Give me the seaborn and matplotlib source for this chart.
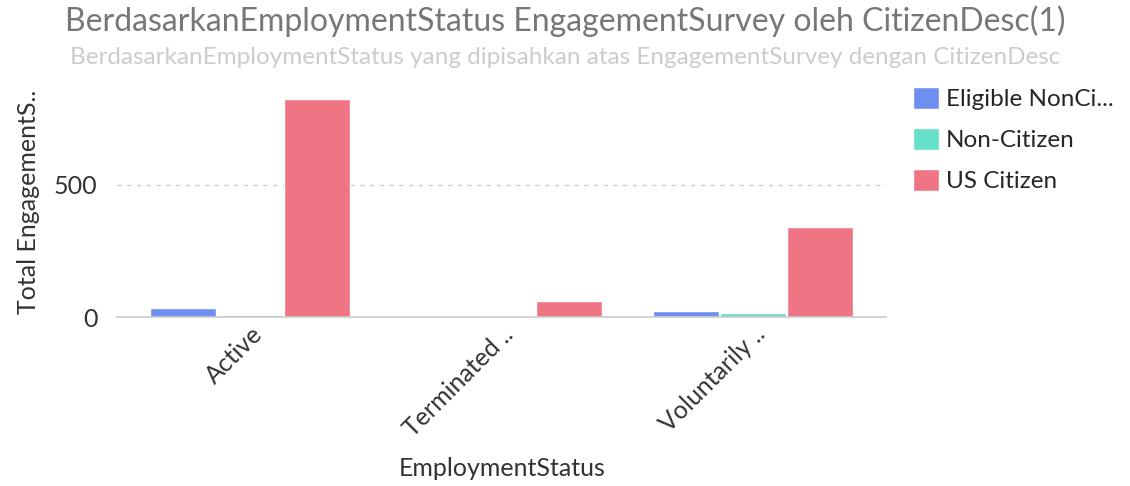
import matplotlib
matplotlib.use("Agg")
import matplotlib.pyplot as plt
import seaborn as sns
import pandas as pd

# data
status = ["Active", "Terminated ..", "Voluntarily .."]
citizen = ["Eligible NonCi...", "Non-Citizen", "US Citizen"]
eligible_noncitizen = [33, 0, 24]
non_citizen = [8, 0, 16]
us_citizen = [825, 62, 340]

colors = ["#6e8ef0", "#66e0c8", "#ef7585"]

df = pd.DataFrame({
    "EmploymentStatus": status * 3,
    "CitizenDesc": [c for c in citizen for _ in status],
    "Total": eligible_noncitizen + non_citizen + us_citizen,
})

sns.set_theme(style="white")
plt.rcParams["font.family"] = ["Lato", "DejaVu Sans"]

fig = plt.figure(figsize=(11.3, 4.86), dpi=100)
ax = fig.add_axes([0.1035, 0.3477, 0.681, 0.474])

sns.barplot(data=df, x="EmploymentStatus", y="Total", hue="CitizenDesc",
            palette=colors, hue_order=citizen, order=status,
            width=0.8, gap=0.02, saturation=1, ax=ax, legend=True)

ax.set_xlim(-0.53, 2.53)
ax.set_ylim(0, 870)
ax.set_yticks([0, 500])
ax.set_yticklabels(["0", "500"], fontsize=18, color="#333333")
ax.yaxis.grid(True, linestyle=(0, (3, 4)), color="#cccccc", linewidth=1)
ax.set_axisbelow(True)
for s in ["top", "right", "left"]:
    ax.spines[s].set_visible(False)
ax.spines["bottom"].set_color("#cccccc")
ax.spines["bottom"].set_linewidth(1.2)
ax.tick_params(axis="y", length=0, pad=14)
ax.tick_params(axis="x", length=0, pad=4)

ax.set_xticks(range(len(status)))
ax.set_xticklabels(status, rotation=45, ha="right", rotation_mode="anchor",
                   fontsize=18, color="#333333")
ax.set_xlabel("EmploymentStatus", fontsize=18, color="#333333", labelpad=12)
ax.set_ylabel("Total EngagementS..", fontsize=18, color="#333333", labelpad=10)

ax.legend(loc="upper left", bbox_to_anchor=(1.035, 1.0), frameon=False,
          fontsize=17.5, handlelength=1.05, handleheight=1.05, handletextpad=0.3,
          labelspacing=0.72, borderaxespad=0, borderpad=0)

fig.text(0.5, 0.957, "BerdasarkanEmploymentStatus EngagementSurvey oleh CitizenDesc(1)",
         ha="center", va="center", fontsize=23, color="#777777")
fig.text(0.5, 0.882, "BerdasarkanEmploymentStatus yang dipisahkan atas EngagementSurvey dengan CitizenDesc",
         ha="center", va="center", fontsize=17.5, color="#cccccc")

fig.savefig("out.png", dpi=100)
